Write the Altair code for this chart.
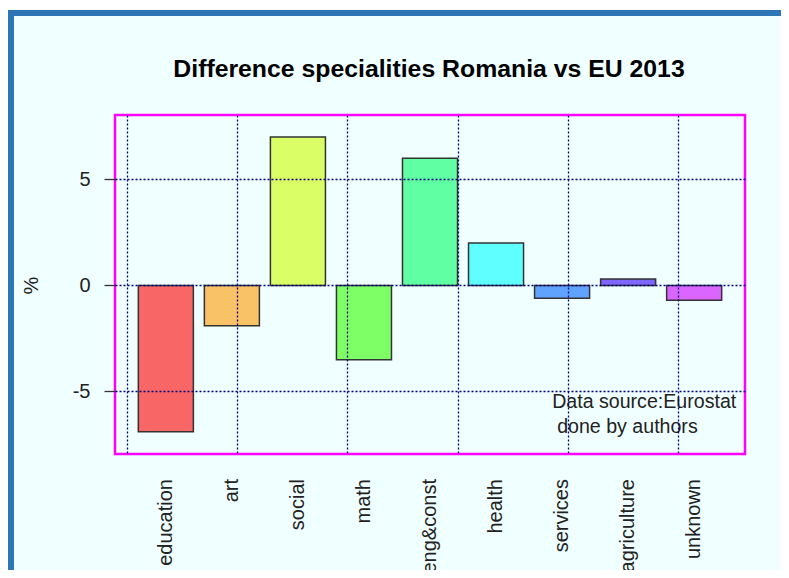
import altair as alt
import pandas as pd

categories = ["education", "art", "social", "math", "eng&const",
              "health", "services", "agriculture", "unknown"]
values = [-6.9, -1.9, 7.0, -3.5, 6.0, 2.0, -0.6, 0.3, -0.7]
bar_colors = ["#FF0000", "#FF9900", "#CCFF00", "#33FF00", "#00FF66",
              "#00FFFF", "#0066FF", "#3300FF", "#CC00FF"]
y_ticks = [-5, 0, 5]
x_grid = [0, 2, 4, 6, 8, 10]
title_text = "Difference specialities Romania vs EU 2013"
note_lines = ["Data source:Eurostat", "done by authors"]
note_x = [7.72, 7.72]
note_y = [-5.78, -6.96]
note_dx = [0, 5]

W, H = 630, 339
PL, PT = 107, 107
SVG_W, SVG_H = 773, 562
FONT = "Liberation Sans"

df = pd.DataFrame({"category": categories, "value": values,
                   "idx": list(range(len(categories)))})

xs = alt.Scale(domain=[-0.224, 11.224], nice=False, zero=False)
ys = alt.Scale(domain=[-7.95, 8.04], nice=False, zero=False)

base = alt.Chart(df).transform_calculate(
    pos="0.7 + 1.2 * datum.idx",
    left="0.2 + 1.2 * datum.idx",
    right="1.2 + 1.2 * datum.idx",
)

bars = base.mark_bar(fillOpacity=0.6, stroke="#333333", strokeWidth=1.5,
                     strokeOpacity=1).encode(
    x=alt.X("left:Q", scale=xs,
            axis=alt.Axis(values=x_grid, grid=True, labels=False, ticks=False,
                          domain=False, title=None, gridColor="#000080",
                          gridDash=[2, 2], gridWidth=1.3, zindex=1)),
    x2="right:Q",
    y=alt.Y("value:Q", scale=ys,
            axis=alt.Axis(values=y_ticks, grid=True, gridColor="#000080",
                          gridDash=[2, 2], gridWidth=1.3, zindex=1,
                          domain=False, tickSize=11, tickColor="#333333",
                          tickWidth=1.3, labelFontSize=20, labelFont=FONT,
                          labelColor="#222222", labelPadding=14,
                          labelExpr="toString(datum.value)",
                          title="%", titleFontSize=20, titleFont=FONT,
                          titleFontWeight="normal", titleColor="#222222",
                          titleX=-84, titleY=170, titleAngle=270,
                          titleAlign="center", titleBaseline="middle")),
    y2=alt.datum(0),
    fill=alt.Fill("category:N", sort=categories,
                  scale=alt.Scale(domain=categories, range=bar_colors),
                  legend=None),
)

labels = base.mark_text(angle=270, align="right", baseline="middle",
                        fontSize=20, font=FONT, color="#222222").encode(
    x=alt.X("pos:Q", scale=xs),
    text="category:N",
    y=alt.value(H + 25),
)

note_df = pd.DataFrame({"x": note_x, "y": note_y, "t": note_lines,
                        "dx": note_dx})
note1 = alt.Chart(note_df).transform_filter("datum.dx == 0").mark_text(
    align="left", baseline="alphabetic", fontSize=19.6, font=FONT,
    color="#222222").encode(
    x=alt.X("x:Q", scale=xs), y=alt.Y("y:Q", scale=ys), text="t:N")
note2 = alt.Chart(note_df).transform_filter("datum.dx > 0").mark_text(
    align="left", baseline="alphabetic", fontSize=19.6, font=FONT,
    color="#222222", dx=5).encode(
    x=alt.X("x:Q", scale=xs), y=alt.Y("y:Q", scale=ys), text="t:N")

deco = alt.Chart(pd.DataFrame({"t": [title_text]}))
title = deco.mark_text(align="center", baseline="alphabetic", fontSize=24.8,
                       fontWeight="bold", font=FONT, color="#000000").encode(
    x=alt.value(W / 2 - 1), y=alt.value(-38), text="t:N")
white_strip = deco.mark_rect(color="white").encode(
    x=alt.value(-PL), x2=alt.value(SVG_W - PL),
    y=alt.value(-PT), y2=alt.value(-PT + 2))
top_band = deco.mark_rect(color="#2E75B6").encode(
    x=alt.value(-PL), x2=alt.value(SVG_W - PL),
    y=alt.value(-PT + 2), y2=alt.value(-PT + 8))
left_band = deco.mark_rect(color="#2E75B6").encode(
    x=alt.value(-PL), x2=alt.value(-PL + 6),
    y=alt.value(-PT + 2), y2=alt.value(SVG_H - PT))

chart = alt.layer(bars, labels, note1, note2, title, white_strip, top_band,
                  left_band).properties(
    width=W, height=H,
    autosize=alt.AutoSizeParams(type="none"),
    padding={"left": PL, "top": PT, "right": SVG_W - PL - W,
             "bottom": SVG_H - PT - H},
).configure(background="#F0FFFF").configure_view(
    stroke="#FF00FF", strokeWidth=2.5)

chart.save("out.html", embed_options={"renderer": "svg", "actions": False})
